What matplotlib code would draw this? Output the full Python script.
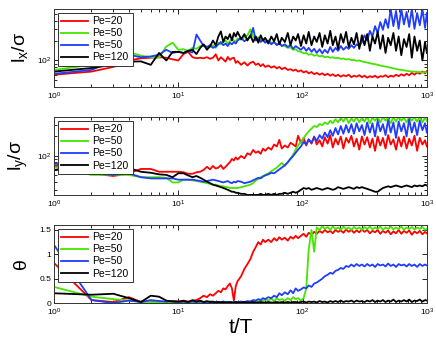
import numpy as np
import matplotlib
matplotlib.use('Agg')
from matplotlib import pyplot as plt
from matplotlib import ticker

plt.rcParams['font.family'] = ['Liberation Sans', 'DejaVu Sans']

# time axis shared by all curves
t = [1, 2, 3, 4, 5, 6, 7, 8, 9, 10,
     11, 12, 13, 14, 15, 16, 17, 18, 19, 20,
     21, 22, 23, 24, 25, 26, 27, 28, 29, 30,
     32, 34, 36, 38, 40, 42, 44, 46, 48, 50,
     53, 56, 59, 62, 65, 68,
     72, 76, 80, 84, 88, 92,
     97, 102, 107, 112, 118, 124, 130, 137, 144, 151, 159, 167,
     175, 184, 193, 203, 213, 224, 235, 247, 259, 272, 286, 300,
     315, 331, 348, 365, 383, 402, 422, 443, 465, 488, 512, 538, 565,
     593, 623, 654, 687, 721, 757, 795, 835, 877, 921, 967, 1000]

labels = ['Pe=20', 'Pe=50', 'Pe=50', 'Pe=120']
colors = ['#ff0000', '#44e600', '#1f3cff', '#000000']

# l_x / sigma
lx_red = [61, 68, 80, 100, 108, 110, 112, 110, 104, 100,
          125, 135, 112, 108, 110, 108, 112, 106, 110, 124,
          100, 112, 104, 96, 113, 102, 108, 110, 92, 98,
          86, 94, 84, 92, 96, 86, 90, 82, 88, 80,
          84, 78, 82, 76, 80, 74,
          78, 72, 74, 70, 73, 68,
          71, 66, 69, 64, 67, 62, 65, 61, 64, 60, 63, 59,
          62, 58, 61, 57, 60, 58, 61, 56, 59, 57, 60, 56,
          59, 55, 58, 56, 59, 55, 58, 57, 60, 56, 59, 57, 61,
          58, 62, 59, 63, 60, 65, 61, 66, 63, 68, 64, 69]
lx_green = [72, 86, 112, 135, 118, 112, 110, 163, 185, 145,
            148, 140, 155, 150, 165, 172, 160, 158, 170, 155,
            185, 175, 190, 200, 180, 195, 210, 200, 190, 215,
            205, 225, 240, 294, 230, 215, 225, 200, 210, 195,
            200, 185, 190, 175, 180, 168,
            165, 155, 158, 145, 148, 138,
            135, 128, 130, 122, 125, 118, 121, 115, 118, 112, 114, 110,
            112, 108, 110, 106, 107, 104, 105, 101, 102, 99, 100, 97,
            95, 93, 91, 89, 88, 86, 84, 82, 81, 79, 78, 76, 75,
            73, 72, 71, 70, 69, 68, 68, 67, 67, 66, 67, 66]
lx_blue = [63, 72, 100, 122, 112, 115, 122, 145, 130, 135,
           130, 138, 132, 246, 200, 165, 160, 170, 155, 162,
           175, 190, 170, 180, 165, 185, 175, 190, 180, 200,
           220, 195, 210, 230, 310, 200, 215, 190, 205, 185,
           200, 175, 190, 170, 185, 165,
           175, 160, 170, 150, 165, 155,
           145, 160, 140, 155, 135, 150, 130, 148, 128, 145, 130, 160,
           135, 155, 140, 165, 145, 160, 150, 170, 155, 175, 165, 190,
           240, 200, 280, 230, 330, 260, 380, 290, 420, 310, 600, 330, 560,
           300, 600, 350, 540, 320, 600, 300, 520, 340, 600, 310, 520]
lx_black = [68, 77, 86, 96, 97, 86, 130, 100, 135, 135,
            130, 140, 145, 125, 155, 175, 145, 165, 200, 170,
            230, 275, 190, 230, 210, 250, 200, 260, 230, 270,
            210, 250, 200, 240, 190, 230, 185, 240, 200, 220,
            180, 230, 195, 250, 175, 220,
            190, 260, 170, 230, 200, 250,
            165, 240, 180, 270, 170, 230, 190, 260, 160, 240, 180, 280,
            170, 230, 150, 250, 185, 270, 160, 220, 175, 260, 150, 240,
            170, 250, 140, 230, 180, 270, 150, 240, 130, 220, 170, 260, 140,
            230, 120, 210, 160, 250, 110, 230, 140, 200, 100, 190, 130]

# l_y / sigma
ly_red = [73, 54, 49, 54, 63, 63, 57, 57, 57, 57,
          56, 53, 53, 56, 57, 61, 68, 62, 70, 64,
          66, 72, 63, 68, 74, 80, 90, 85, 95, 88,
          100, 92, 110, 104, 124, 112, 118, 108, 130, 120,
          135, 125, 150, 140, 177, 130,
          145, 135, 160, 150, 140, 205,
          160, 190, 145, 180, 155, 200, 150, 175, 140, 195, 155, 210,
          135, 185, 150, 200, 130, 190, 160, 205, 140, 185, 125, 200,
          150, 195, 135, 185, 120, 200, 145, 190, 130, 210, 150, 180, 125,
          195, 140, 200, 130, 185, 145, 205, 120, 190, 150, 175, 140]
ly_green = [68, 51, 51, 51, 47, 47, 47, 46, 39, 39,
            43, 43, 42, 41, 40, 39, 38, 37, 36, 36,
            35, 34, 34, 33, 33, 32, 32, 32, 32, 32,
            33, 34, 35, 36, 38, 42, 44, 47, 49, 51,
            54, 58, 62, 66, 72, 78,
            70, 80, 92, 105, 125, 145,
            165, 190, 215, 240, 265, 290, 280, 310, 300, 330, 310, 350,
            320, 370, 330, 390, 340, 400, 320, 380, 340, 400, 330, 390,
            340, 400, 320, 390, 350, 400, 330, 400, 350, 390, 320, 400, 340,
            400, 350, 390, 330, 400, 350, 400, 340, 400, 330, 390, 350]
ly_blue = [78, 54, 51, 54, 47, 45, 45, 45, 45, 43,
           43, 43, 43, 42, 41, 40, 41, 42, 43, 42,
           41, 40, 39, 40, 41, 39, 38, 40, 39, 41,
           40, 38, 39, 40, 42, 44, 46, 45, 48, 50,
           52, 55, 54, 58, 62, 66,
           72, 80, 90, 100, 112, 125,
           140, 165, 150, 180, 160, 195, 170, 210, 185, 230, 195, 250,
           205, 270, 215, 290, 220, 300, 230, 310, 220, 320, 240, 300,
           210, 330, 230, 320, 200, 350, 240, 310, 210, 360, 230, 330, 190,
           340, 240, 320, 200, 370, 230, 330, 210, 350, 250, 320, 230]
ly_black = [61, 68, 72, 65, 57, 55, 52, 51, 47, 54,
            54, 50, 47, 49, 46, 43, 40, 38, 36, 35,
            34, 33, 32, 31, 30, 29, 28, 28, 27, 27,
            26, 26, 25, 25, 25, 25, 25, 26, 25, 25,
            26, 25, 26, 25, 26, 26,
            27, 26, 27, 28, 27, 28,
            30, 32, 31, 32, 30, 31, 32, 31, 30, 31, 32, 31,
            30, 31, 33, 32, 31, 32, 33, 32, 31, 33, 32, 33,
            32, 31, 30, 29, 28, 28, 30, 32, 33, 34, 33, 34, 35,
            34, 33, 34, 35, 34, 33, 35, 34, 35, 34, 36, 35]

# theta
th_red = [0.82, 0.06, 0.02, 0.12, 0.02, 0.04, 0.03, 0.02, 0.04, 0.03,
          0.05, 0.03, 0.04, 0.06, 0.10, 0.15, 0.12, 0.18, 0.15, 0.20,
          0.25, 0.22, 0.30, 0.28, 0.35, 0.40, 0.30, 0.05, 0.35, 0.45,
          0.55, 0.70, 0.80, 0.90, 1.05, 1.15, 1.25, 1.20, 1.30, 1.25,
          1.30, 1.25, 1.33, 1.28, 1.35, 1.30,
          1.34, 1.28, 1.36, 1.32, 1.38, 1.33,
          1.38, 1.42, 1.36, 1.44, 1.40, 1.46, 1.42, 1.48, 1.44, 1.50, 1.45, 1.48,
          1.43, 1.50, 1.46, 1.49, 1.44, 1.51, 1.46, 1.50, 1.44, 1.49, 1.45, 1.51,
          1.46, 1.50, 1.43, 1.48, 1.45, 1.50, 1.42, 1.48, 1.44, 1.49, 1.41, 1.47, 1.43,
          1.50, 1.42, 1.48, 1.44, 1.49, 1.40, 1.47, 1.43, 1.48, 1.41, 1.46, 1.43]
th_green = [0.33, 0.13, 0.08, 0.05, 0.03, 0.02, 0.02, 0.02, 0.01, 0.01,
            0.02, 0.01, 0.02, 0.01, 0.01, 0.02, 0.01, 0.01, 0.02, 0.01,
            0.01, 0.02, 0.01, 0.02, 0.01, 0.02, 0.01, 0.01, 0.02, 0.01,
            0.02, 0.01, 0.02, 0.03, 0.02, 0.04, 0.03, 0.06, 0.04, 0.08,
            0.05, 0.09, 0.04, 0.10, 0.06, 0.08,
            0.05, 0.10, 0.06, 0.12, 0.08, 0.10,
            0.05, 0.10, 0.30, 1.10, 1.50, 1.05, 1.55, 1.50, 1.58, 1.52, 1.56, 1.50,
            1.57, 1.52, 1.55, 1.50, 1.57, 1.52, 1.55, 1.50, 1.56, 1.52, 1.55, 1.50,
            1.56, 1.52, 1.57, 1.51, 1.55, 1.52, 1.57, 1.50, 1.55, 1.52, 1.57, 1.51, 1.55,
            1.52, 1.57, 1.50, 1.55, 1.52, 1.56, 1.51, 1.55, 1.52, 1.56, 1.50, 1.52]
th_blue = [1.19, 0.06, 0.00, 0.05, 0.02, 0.06, 0.04, 0.03, 0.04, 0.02,
           0.03, 0.02, 0.03, 0.02, 0.03, 0.02, 0.02, 0.03, 0.02, 0.02,
           0.02, 0.02, 0.03, 0.02, 0.02, 0.01, 0.02, 0.01, 0.02, 0.02,
           0.03, 0.02, 0.04, 0.03, 0.06, 0.05, 0.08, 0.06, 0.10, 0.08,
           0.12, 0.10, 0.15, 0.12, 0.20, 0.16,
           0.22, 0.18, 0.26, 0.20, 0.30, 0.25,
           0.28, 0.32, 0.30, 0.36, 0.33, 0.40, 0.42, 0.46, 0.50, 0.55, 0.58, 0.62,
           0.60, 0.66, 0.68, 0.72, 0.70, 0.76, 0.74, 0.79, 0.75, 0.80, 0.76, 0.79,
           0.75, 0.80, 0.76, 0.79, 0.74, 0.80, 0.77, 0.79, 0.75, 0.81, 0.76, 0.79, 0.74,
           0.80, 0.77, 0.79, 0.75, 0.80, 0.76, 0.79, 0.74, 0.80, 0.76, 0.79, 0.77]
th_black = [0.20, 0.17, 0.19, 0.10, 0.02, 0.15, 0.13, 0.05, 0.03, 0.03,
            0.04, 0.02, 0.06, 0.03, 0.05, 0.02, 0.04, 0.02, 0.03, 0.01,
            0.02, 0.01, 0.02, 0.01, 0.01, 0.02, 0.01, 0.01, 0.02, 0.01,
            0.01, 0.02, 0.01, 0.01, 0.02, 0.01, 0.01, 0.02, 0.01, 0.01,
            0.02, 0.01, 0.01, 0.02, 0.01, 0.02,
            0.01, 0.02, 0.01, 0.02, 0.02, 0.01,
            0.02, 0.03, 0.01, 0.03, 0.02, 0.03, 0.01, 0.04, 0.02, 0.03, 0.01, 0.04,
            0.02, 0.04, 0.02, 0.05, 0.02, 0.04, 0.03, 0.05, 0.02, 0.05, 0.03, 0.04,
            0.02, 0.05, 0.03, 0.06, 0.02, 0.05, 0.03, 0.06, 0.02, 0.05, 0.03, 0.07, 0.02,
            0.05, 0.03, 0.06, 0.03, 0.07, 0.02, 0.05, 0.04, 0.07, 0.03, 0.06, 0.05]

panels = [
    ([lx_red, lx_green, lx_blue, lx_black], r'$\mathregular{l_x/}$σ', (40, 600), True),
    ([ly_red, ly_green, ly_blue, ly_black], r'$\mathregular{l_y/}$σ', (25, 400), True),
    ([th_red, th_green, th_blue, th_black], 'θ', (0, 1.6), False),
]

fig = plt.figure(figsize=(4.36, 3.42), dpi=100)
boxes = [[0.124, 0.746, 0.855, 0.228],
         [0.124, 0.430, 0.855, 0.228],
         [0.124, 0.114, 0.855, 0.228]]

for box, (series, ylab, ylim, logy) in zip(boxes, panels):
    ax = fig.add_axes(box)
    for y, c, lab in zip(series, colors, labels):
        ax.plot(t, y, '-', color=c, lw=1.3, label=lab)
    ax.set_xscale('log')
    ax.set_xlim(1, 1000)
    if logy:
        ax.set_yscale('log')
        ax.yaxis.set_minor_formatter(ticker.NullFormatter())
    else:
        ax.set_yticks([0, 0.5, 1, 1.5])
        ax.set_yticklabels(['0', '0.5', '1', '1.5'])
    ax.set_ylim(*ylim)
    ax.tick_params(which='both', direction='in', top=True, right=True,
                   labelsize=6, width=0.6, pad=2)
    ax.tick_params(axis='x', pad=3)
    ax.tick_params(which='major', length=3.5)
    ax.tick_params(which='minor', length=2)
    for s in ax.spines.values():
        s.set_linewidth(0.7)
        s.set_color('#333333')
    ax.set_ylabel(ylab, fontsize=14)
    ax.yaxis.set_label_coords(-0.065, 0.5)
    leg = ax.legend(loc='upper left', fontsize=7.5, fancybox=False,
                    edgecolor='#333333', framealpha=1, borderpad=0.35,
                    labelspacing=0.2, handlelength=2.6, handletextpad=0.4,
                    borderaxespad=0.35)
    leg.get_frame().set_linewidth(0.7)

ax.set_xlabel('t/T', fontsize=15, labelpad=0)

fig.savefig('out.png', dpi=100)
